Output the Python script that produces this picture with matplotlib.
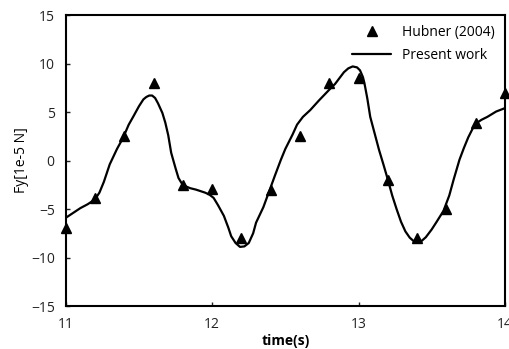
import matplotlib
matplotlib.use('Agg')
import matplotlib.pyplot as plt

# Hubner (2004) reference points
hub_t = [11.0, 11.2, 11.4, 11.6, 11.8, 12.0, 12.2, 12.4, 12.6, 12.8, 13.0,
         13.2, 13.4, 13.6, 13.8, 14.0]
hub_fy = [-7.0, -3.9, 2.5, 8.0, -2.5, -2.9, -8.0, -3.0, 2.5, 8.0, 8.5,
          -2.05, -8.0, -5.0, 3.9, 7.0]

# present work curve
cur_t = [11.00, 11.05, 11.10, 11.15, 11.20, 11.23, 11.26, 11.30, 11.35, 11.39,
         11.43, 11.46, 11.50, 11.53, 11.55, 11.57, 11.59, 11.61, 11.63, 11.66,
         11.68, 11.70, 11.72, 11.75, 11.77, 11.79, 11.81, 11.85, 11.89, 11.92,
         11.95, 11.98, 12.01, 12.04, 12.08, 12.11, 12.13, 12.16, 12.19, 12.22,
         12.25, 12.28, 12.30, 12.35, 12.39, 12.43, 12.47, 12.50, 12.55, 12.58,
         12.62, 12.67, 12.73, 12.80, 12.84, 12.87, 12.90, 12.93, 12.96, 12.99,
         13.01, 13.03, 13.04, 13.06, 13.08, 13.11, 13.14, 13.17, 13.20, 13.23,
         13.26, 13.29, 13.32, 13.35, 13.38, 13.40, 13.43, 13.46, 13.50, 13.53,
         13.58, 13.62, 13.65, 13.69, 13.72, 13.75, 13.78, 13.80, 13.84, 13.88,
         13.94, 14.00]
cur_fy = [-5.9, -5.4, -4.9, -4.5, -4.0, -3.3, -2.2, -0.4, 1.2, 2.3,
          3.7, 4.5, 5.6, 6.3, 6.55, 6.7, 6.7, 6.45, 5.9, 4.9,
          3.9, 2.6, 0.8, -0.8, -1.8, -2.3, -2.6, -2.85, -3.0, -3.15,
          -3.3, -3.5, -3.85, -4.6, -5.7, -6.9, -7.8, -8.5, -8.9, -8.85,
          -8.5, -7.5, -6.4, -4.8, -3.15, -1.5, 0.1, 1.2, 2.7, 3.7,
          4.5, 5.2, 6.2, 7.3, 7.9, 8.5, 9.1, 9.5, 9.7, 9.6,
          9.3, 8.6, 8.0, 6.4, 4.5, 2.8, 1.1, -0.4, -1.95, -3.6,
          -5.0, -6.3, -7.3, -7.95, -8.35, -8.45, -8.3, -7.9, -7.1, -6.4,
          -5.2, -3.6, -1.95, 0.1, 1.3, 2.4, 3.3, 3.8, 4.2, 4.5,
          5.05, 5.4]

x_ticks = [11, 12, 13, 14]
y_ticks = [-15, -10, -5, 0, 5, 10, 15]

plt.rcParams['font.family'] = ['Open Sans', 'DejaVu Sans']

fig = plt.figure(figsize=(5.10, 3.49), dpi=100)
ax = fig.add_axes([0.129, 0.123, 0.861, 0.834])

ax.plot(hub_t, hub_fy, linestyle='none', marker='^', color='black',
        markersize=7, label='Hubner (2004)', clip_on=False, zorder=3)
ax.plot(cur_t, cur_fy, color='black', linewidth=1.6, label='Present work',
        solid_joinstyle='round', solid_capstyle='round')

ax.set_xlim(11, 14)
ax.set_ylim(-15, 15)
ax.set_xticks(x_ticks)
ax.set_yticks(y_ticks)
ax.tick_params(direction='in', length=3, width=1, labelsize=10,
               colors='#222222', pad=8)
for s in ax.spines.values():
    s.set_linewidth(1.5)

ax.set_xlabel('time(s)', fontsize=10, fontweight='bold', labelpad=1)
ax.set_ylabel('Fy[1e-5 N]', fontsize=10, labelpad=1)

ax.legend(loc='upper right', frameon=False, fontsize=10,
          handlelength=2.8, borderaxespad=0.3, labelspacing=0.6)

fig.savefig('out.png', dpi=100)
